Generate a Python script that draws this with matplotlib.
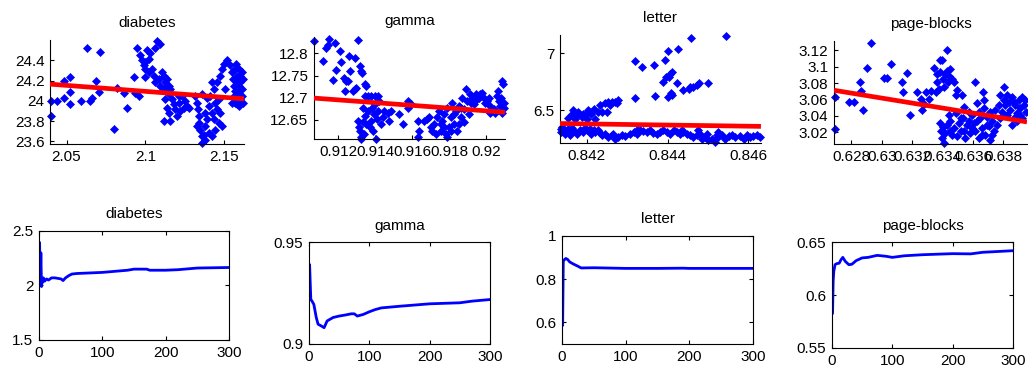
import numpy as np
import matplotlib
matplotlib.use("Agg")
import matplotlib.pyplot as plt

plt.rcParams['font.family'] = ['Liberation Sans', 'DejaVu Sans']
plt.rcParams['font.size'] = 11

names = ['diabetes', 'gamma', 'letter', 'page-blocks']

# ---- top row: scatter (x, y) ----
diabetes_pts = [
    (2.0399, 24.000), (2.0399, 23.850), (2.0441, 24.000), (2.0483, 24.033), (2.0483, 24.200),
    (2.0525, 24.233), (2.0525, 24.083), (2.0525, 23.967), (2.0589, 24.000), (2.0631, 24.517),
    (2.0652, 24.000), (2.0662, 24.033), (2.0684, 24.200), (2.0715, 24.483), (2.0705, 24.083),
    (2.0800, 23.723), (2.0821, 24.123), (2.0863, 24.077), (2.0884, 23.933), (2.0926, 24.233),
    (2.0937, 24.077), (2.0958, 24.050),
    (2.0947, 24.517), (2.0968, 24.450), (2.0979, 24.400), (2.0989, 24.350), (2.1000, 24.383),
    (2.1011, 24.500), (2.1021, 24.417), (2.1032, 24.467), (2.1000, 24.317), (2.1000, 24.233),
    (2.1021, 24.283), (2.1042, 24.317), (2.1053, 24.250), (2.1063, 24.517), (2.1074, 24.590),
    (2.1095, 24.557), (2.1063, 24.183), (2.1084, 24.217), (2.1095, 24.150), (2.1106, 24.283),
    (2.1116, 24.250), (2.1116, 24.117), (2.1127, 24.183), (2.1137, 24.217), (2.1148, 24.150),
    (2.1148, 24.067), (2.1158, 24.117), (2.1169, 24.017), (2.1127, 24.017), (2.1137, 23.933),
    (2.1148, 23.883), (2.1116, 23.800), (2.1158, 23.800), (2.1179, 23.967), (2.1190, 23.917),
    (2.1200, 23.850), (2.1211, 23.983), (2.1222, 23.900), (2.1232, 24.050), (2.1243, 23.933),
    (2.1253, 24.000), (2.1264, 23.950), (2.1274, 23.933), (2.1211, 24.050),
    (2.1317, 24.050), (2.1327, 23.983), (2.1333, 23.917), (2.1338, 23.850), (2.1342, 23.783),
    (2.1348, 23.717), (2.1359, 23.650), (2.1369, 23.667), (2.1380, 23.750), (2.1376, 23.883),
    (2.1390, 23.817), (2.1401, 23.683), (2.1401, 23.950), (2.1411, 24.050), (2.1422, 23.883),
    (2.1422, 23.650), (2.1433, 24.117), (2.1433, 23.817), (2.1443, 23.983), (2.1443, 23.717),
    (2.1454, 24.183), (2.1464, 24.017), (2.1464, 23.783), (2.1475, 24.250), (2.1475, 23.883),
    (2.1485, 24.317), (2.1485, 23.750), (2.1496, 24.367), (2.1506, 24.117), (2.1517, 24.400),
    (2.1327, 23.750), (2.1359, 24.067), (2.1390, 24.033), (2.1359, 23.580), (2.1380, 23.617),
    (2.1422, 24.183), (2.1454, 23.917),
    (2.1538, 24.350), (2.1549, 24.283), (2.1553, 24.217), (2.1559, 24.150), (2.1559, 24.050),
    (2.1570, 23.983), (2.1574, 24.367), (2.1580, 24.250), (2.1587, 24.083), (2.1591, 24.317),
    (2.1591, 23.950), (2.1601, 24.183), (2.1601, 24.017), (2.1612, 24.283), (2.1612, 24.117),
    (2.1622, 24.217), (2.1622, 23.983), (2.1580, 23.967), (2.1549, 23.983), (2.1570, 24.100),
    (2.1580, 24.200), (2.1601, 24.250), (2.1612, 24.050), (2.1591, 24.150), (2.1559, 24.300),
]

gamma_pts = [
    (0.91071, 12.8283), (0.91120, 12.7836), (0.91137, 12.8119), (0.91146, 12.8179), (0.91150, 12.8328),
    (0.91186, 12.8231), (0.91173, 12.7410), (0.91191, 12.7634), (0.91209, 12.8059), (0.91218, 12.7806),
    (0.91232, 12.7448), (0.91236, 12.7149), (0.91245, 12.7373), (0.91254, 12.7373), (0.91257, 12.7933),
    (0.91263, 12.7612), (0.91280, 12.7149), (0.91289, 12.7895), (0.91289, 12.7187), (0.91298, 12.7224),
    (0.91307, 12.8306), (0.91316, 12.7709), (0.91322, 12.7597), (0.91329, 12.7560), (0.91343, 12.7298),
    (0.91352, 12.7261), (0.91347, 12.7037), (0.91334, 12.6776), (0.91361, 12.7037), (0.91379, 12.7037),
    (0.91397, 12.7037), (0.91414, 12.7037),
    (0.91307, 12.6478), (0.91311, 12.6329), (0.91316, 12.6254), (0.91322, 12.6105), (0.91325, 12.6070),
    (0.91334, 12.6440), (0.91339, 12.6179), (0.91343, 12.6590), (0.91352, 12.6403), (0.91361, 12.6702),
    (0.91370, 12.6329), (0.91375, 12.6478), (0.91382, 12.6776), (0.91388, 12.6254), (0.91393, 12.6627),
    (0.91397, 12.6851), (0.91406, 12.6070), (0.91411, 12.6515), (0.91414, 12.6702), (0.91423, 12.6925),
    (0.91432, 12.6403), (0.91441, 12.6552), (0.91450, 12.6702), (0.91468, 12.6664), (0.91486, 12.6702),
    (0.91477, 12.6478),
    (0.91531, 12.6627), (0.91548, 12.6403), (0.91575, 12.6925), (0.91579, 12.6776), (0.91593, 12.6851),
    (0.91629, 12.6478), (0.91638, 12.6254), (0.91632, 12.6105), (0.91665, 12.6478), (0.91682, 12.6515),
    (0.91691, 12.6552), (0.91700, 12.6329), (0.91709, 12.6254), (0.91718, 12.6403), (0.91727, 12.6179),
    (0.91736, 12.6552), (0.91745, 12.6702),
    (0.91754, 12.6254), (0.91763, 12.6478), (0.91772, 12.6627), (0.91781, 12.6179), (0.91790, 12.6776),
    (0.91799, 12.6329), (0.91808, 12.6552), (0.91817, 12.6888), (0.91825, 12.6403), (0.91834, 12.6702),
    (0.91843, 12.6254), (0.91852, 12.6813), (0.91861, 12.6552), (0.91870, 12.7000), (0.91879, 12.6739),
    (0.91888, 12.7187), (0.91897, 12.6925), (0.91906, 12.6627), (0.91911, 12.7075), (0.91879, 12.6440),
    (0.91852, 12.6403), (0.91790, 12.6105), (0.91808, 12.6254), (0.91825, 12.6627), (0.91861, 12.6776),
    (0.91754, 12.6403), (0.91772, 12.6329),
    (0.91915, 12.6888), (0.91924, 12.7000), (0.91933, 12.6851), (0.91942, 12.7075), (0.91951, 12.6963),
    (0.91959, 12.7000), (0.91968, 12.7075), (0.91977, 12.7112), (0.91986, 12.7000), (0.91995, 12.6888),
    (0.92004, 12.6925), (0.92013, 12.7000), (0.92022, 12.6813), (0.92031, 12.6702), (0.92040, 12.6739),
    (0.92049, 12.6664), (0.92058, 12.7037), (0.92061, 12.7149), (0.92067, 12.6925), (0.92072, 12.6813),
    (0.92076, 12.7000), (0.92085, 12.7373), (0.92090, 12.7298), (0.92094, 12.6888), (0.92097, 12.6776),
    (0.92085, 12.6664), (0.92018, 12.6664),
]

letter_pts = [
    (0.84136, 6.338), (0.84137, 6.309), (0.84142, 6.324), (0.84146, 6.294), (0.84155, 6.338),
    (0.84159, 6.279), (0.84167, 6.324), (0.84175, 6.294), (0.84184, 6.329), (0.84192, 6.309),
    (0.84200, 6.324), (0.84208, 6.338), (0.84212, 6.294), (0.84221, 6.309), (0.84229, 6.324),
    (0.84237, 6.279), (0.84245, 6.294), (0.84254, 6.265), (0.84262, 6.279), (0.84270, 6.250),
    (0.84278, 6.265), (0.84287, 6.279), (0.84295, 6.271), (0.84307, 6.288), (0.84316, 6.309),
    (0.84324, 6.324), (0.84332, 6.329), (0.84340, 6.318), (0.84349, 6.309), (0.84357, 6.324),
    (0.84365, 6.300), (0.84373, 6.294), (0.84382, 6.309), (0.84390, 6.324), (0.84398, 6.309),
    (0.84406, 6.294), (0.84415, 6.324), (0.84423, 6.309), (0.84431, 6.288), (0.84439, 6.309),
    (0.84448, 6.294), (0.84456, 6.279), (0.84464, 6.265), (0.84472, 6.279), (0.84481, 6.294),
    (0.84485, 6.250), (0.84493, 6.265), (0.84501, 6.235), (0.84509, 6.250), (0.84518, 6.221),
    (0.84526, 6.265), (0.84534, 6.279), (0.84542, 6.250), (0.84551, 6.271), (0.84559, 6.279),
    (0.84567, 6.265), (0.84580, 6.271), (0.84588, 6.250), (0.84596, 6.279), (0.84604, 6.265),
    (0.84612, 6.271), (0.84621, 6.279), (0.84629, 6.265), (0.84138, 6.353), (0.84163, 6.347),
    (0.84196, 6.347), (0.84217, 6.329), (0.84233, 6.300), (0.84266, 6.294), (0.84324, 6.288),
    (0.84435, 6.329), (0.84476, 6.324), (0.84497, 6.294), (0.84522, 6.279), (0.84526, 6.309),
    (0.84155, 6.435), (0.84163, 6.471), (0.84167, 6.500), (0.84171, 6.426), (0.84175, 6.456),
    (0.84179, 6.485), (0.84188, 6.441), (0.84192, 6.471), (0.84196, 6.456), (0.84200, 6.426),
    (0.84204, 6.500), (0.84212, 6.471), (0.84217, 6.515), (0.84221, 6.426), (0.84229, 6.485),
    (0.84233, 6.544), (0.84237, 6.485), (0.84245, 6.559), (0.84250, 6.485), (0.84254, 6.574),
    (0.84258, 6.544), (0.84262, 6.574), (0.84270, 6.574), (0.84278, 6.588), (0.84274, 6.559),
    (0.84320, 6.935), (0.84320, 6.603), (0.84338, 6.876), (0.84367, 6.897), (0.84369, 6.626),
    (0.84390, 6.750), (0.84394, 6.941), (0.84396, 6.794), (0.84400, 7.023), (0.84402, 6.618),
    (0.84404, 6.788), (0.84406, 6.818), (0.84409, 6.647), (0.84410, 6.838), (0.84412, 6.632),
    (0.84423, 6.741), (0.84425, 7.035), (0.84439, 6.676), (0.84452, 6.682), (0.84456, 6.706),
    (0.84458, 7.138), (0.84464, 6.706), (0.84472, 6.721), (0.84478, 6.735), (0.84501, 6.741),
    (0.84544, 7.153),
]

page_pts = [
    (0.62691, 3.0632), (0.62691, 3.0245), (0.62785, 3.0572), (0.62818, 3.0572), (0.62857, 3.0811),
    (0.62861, 3.0700), (0.62879, 3.0472), (0.62901, 3.0979), (0.62931, 3.1280), (0.63014, 3.0859),
    (0.63032, 3.0859), (0.63063, 3.1031), (0.63135, 3.0811), (0.63141, 3.0692), (0.63163, 3.0923),
    (0.63185, 3.0412), (0.63233, 3.0692), (0.63255, 3.0604), (0.63266, 3.0472), (0.63281, 3.0540),
    (0.63294, 3.0692), (0.63310, 3.0612), (0.63321, 3.0700),
    (0.63343, 3.0979), (0.63354, 3.0692), (0.63360, 3.0911), (0.63365, 3.0811), (0.63375, 3.0732),
    (0.63382, 3.1083), (0.63386, 3.0931), (0.63397, 3.1083), (0.63404, 3.0851), (0.63408, 3.0752),
    (0.63419, 3.0911), (0.63426, 3.0951), (0.63430, 3.1202), (0.63435, 3.0811), (0.63441, 3.0891),
    (0.63452, 3.0971), (0.63463, 3.0843), (0.63474, 3.0811), (0.63485, 3.0652), (0.63496, 3.0712),
    (0.63382, 3.0313), (0.63391, 3.0213), (0.63397, 3.0133), (0.63404, 3.0261), (0.63408, 3.0073),
    (0.63419, 3.0193), (0.63430, 3.0293), (0.63441, 3.0412), (0.63452, 3.0333), (0.63463, 3.0173),
    (0.63474, 3.0253), (0.63485, 3.0432), (0.63496, 3.0153), (0.63507, 3.0313), (0.63518, 3.0213),
    (0.63529, 3.0652), (0.63535, 3.0373), (0.63540, 3.0512), (0.63550, 3.0133), (0.63561, 3.0293),
    (0.63572, 3.0452), (0.63583, 3.0193), (0.63594, 3.0412), (0.63605, 3.0313), (0.63610, 3.0811),
    (0.63616, 3.0213), (0.63627, 3.0552), (0.63638, 3.0133), (0.63649, 3.0373), (0.63660, 3.0253),
    (0.63666, 3.0692), (0.63671, 3.0492), (0.63682, 3.0173), (0.63693, 3.0393), (0.63704, 3.0273),
    (0.63710, 3.0113), (0.63715, 3.0452), (0.63726, 3.0333), (0.63736, 3.0213), (0.63747, 3.0472),
    (0.63758, 3.0293), (0.63594, 3.0253), (0.63638, 3.0452), (0.63660, 3.0173), (0.63693, 3.0293),
    (0.63726, 3.0173), (0.63627, 3.0333), (0.63671, 3.0592), (0.63572, 3.0333), (0.63540, 3.0213),
    (0.63518, 3.0373), (0.63452, 3.0213),
    (0.63769, 3.0532), (0.63780, 3.0652), (0.63791, 3.0452), (0.63802, 3.0752), (0.63806, 3.0592),
    (0.63813, 3.0532), (0.63824, 3.0412), (0.63835, 3.0572), (0.63846, 3.0472), (0.63857, 3.0632),
    (0.63868, 3.0373), (0.63879, 3.0532), (0.63890, 3.0432), (0.63901, 3.0592), (0.63912, 3.0492),
    (0.63922, 3.0632), (0.63933, 3.0532), (0.63944, 3.0592), (0.63951, 3.0452), (0.63857, 3.0293),
    (0.63890, 3.0333), (0.63922, 3.0373), (0.63780, 3.0373), (0.63824, 3.0652), (0.63868, 3.0572),
    (0.63912, 3.0412),
]

# fitted regression line (end points)
fit_x = [[2.0395, 2.1625], [0.9107, 0.9210], [0.84134, 0.84631], [0.62686, 0.63955]]
fit_y = [[24.165, 24.020], [12.699, 12.667], [6.383, 6.358], [3.0712, 3.0328]]

# ---- bottom row: value per iteration ----
diabetes_iter = [1, 2, 3, 4, 5, 6, 7, 9, 12, 15, 20, 25, 30, 35, 38, 42, 47, 52, 60, 80,
                 100, 120, 140, 150, 170, 175, 200, 220, 240, 250, 300]
diabetes_val = [2.39, 2.0, 2.30, 1.99, 2.06, 2.03, 2.07, 2.04, 2.06, 2.05, 2.07, 2.07, 2.065,
                2.06, 2.045, 2.07, 2.09, 2.105, 2.11, 2.115, 2.12, 2.13, 2.14, 2.15, 2.15,
                2.14, 2.14, 2.145, 2.155, 2.16, 2.165]
gamma_iter = [1, 2, 3, 5, 8, 12, 15, 20, 25, 30, 40, 50, 60, 70, 75, 80, 90, 100, 110, 120,
              150, 200, 250, 270, 300]
gamma_val = [0.9387, 0.930, 0.9218, 0.921, 0.9194, 0.913, 0.9097, 0.9089, 0.908, 0.9113,
             0.913, 0.9137, 0.9142, 0.9148, 0.9148, 0.9137, 0.9145, 0.9158, 0.9169, 0.9177,
             0.9185, 0.9197, 0.9202, 0.921, 0.9218]
letter_iter = [1, 2, 4, 6, 9, 12, 18, 25, 30, 50, 100, 150, 190, 200, 250, 300]
letter_val = [0.588, 0.883, 0.891, 0.896, 0.891, 0.880, 0.870, 0.860, 0.852, 0.853, 0.850,
              0.850, 0.851, 0.850, 0.850, 0.850]
page_iter = [1, 2, 3, 5, 8, 12, 15, 18, 22, 28, 33, 40, 50, 60, 75, 90, 100, 120, 150, 200,
             230, 250, 300]
page_val = [0.583, 0.613, 0.622, 0.6286, 0.6296, 0.6300, 0.6333, 0.6355, 0.6318, 0.6286,
            0.6290, 0.6324, 0.6350, 0.6355, 0.6374, 0.6365, 0.6355, 0.6370, 0.6380, 0.6390,
            0.6388, 0.6403, 0.6418]

# ---- axis limits / ticks ----
top_xlim = [(2.0395, 2.1625), (0.9107, 0.9210), (0.84134, 0.84631), (0.62686, 0.63955)]
top_ylim = [(23.575, 24.6), (12.6065, 12.837), (6.212, 7.161), (3.006, 3.131)]
top_xticks = [[2.05, 2.1, 2.15], [0.912, 0.914, 0.916, 0.918, 0.92], [0.842, 0.844, 0.846],
              [0.628, 0.63, 0.632, 0.634, 0.636, 0.638]]
top_xlabels = [['2.05', '2.1', '2.15'], ['0.912', '0.914', '0.916', '0.918', '0.92'],
               ['0.842', '0.844', '0.846'], ['0.628', '0.63', '0.632', '0.634', '0.636', '0.638']]
top_yticks = [[23.6, 23.8, 24, 24.2, 24.4], [12.65, 12.7, 12.75, 12.8], [6.5, 7],
              [3.02, 3.04, 3.06, 3.08, 3.1, 3.12]]
top_ylabels = [['23.6', '23.8', '24', '24.2', '24.4'], ['12.65', '12.7', '12.75', '12.8'],
               ['6.5', '7'], ['3.02', '3.04', '3.06', '3.08', '3.1', '3.12']]
bot_ylim = [(1.5, 2.5), (0.9, 0.95), (0.5, 1.0), (0.55, 0.65)]
bot_yticks = [[1.5, 2, 2.5], [0.9, 0.95], [0.6, 0.8, 1.0], [0.55, 0.6, 0.65]]
bot_ylabels = [['1.5', '2', '2.5'], ['0.9', '0.95'], ['0.6', '0.8', '1'], ['0.55', '0.6', '0.65']]

# axes boxes in figure fractions (left, bottom, width, height)
top_pos = [[0.0486, 0.6119, 0.1887, 0.2803], [0.3054, 0.6253, 0.1858, 0.2749],
           [0.5447, 0.6146, 0.1955, 0.2911], [0.8113, 0.6119, 0.1877, 0.2776]]
bot_pos = [[0.0379, 0.0836, 0.1848, 0.2938], [0.3006, 0.0728, 0.1761, 0.2749],
           [0.5467, 0.0728, 0.1858, 0.2911], [0.8093, 0.0620, 0.1761, 0.2857]]

scatter_sets = [diabetes_pts, gamma_pts, letter_pts, page_pts]
line_sets = [(diabetes_iter, diabetes_val), (gamma_iter, gamma_val),
             (letter_iter, letter_val), (page_iter, page_val)]

fig = plt.figure(figsize=(10.28, 3.71), dpi=100)

for i in range(4):
    # scatter + fitted line
    ax = fig.add_axes(top_pos[i])
    pts = np.array(scatter_sets[i])
    ax.plot(pts[:, 0], pts[:, 1], 'D', color='blue', markersize=3.6, markeredgewidth=0.5,
            clip_on=False, zorder=2)
    ax.plot(fit_x[i], fit_y[i], '-', color='red', linewidth=3.4, solid_capstyle='butt', zorder=3)
    ax.set_xlim(top_xlim[i])
    ax.set_ylim(top_ylim[i])
    ax.set_xticks(top_xticks[i])
    ax.set_xticklabels(top_xlabels[i])
    ax.set_yticks(top_yticks[i])
    ax.set_yticklabels(top_ylabels[i])
    ax.spines['top'].set_visible(False)
    ax.spines['right'].set_visible(False)
    ax.tick_params(direction='in', length=3, width=0.8, labelsize=11, pad=4)
    ax.set_title(names[i], fontsize=11, pad=9)

    # convergence curve
    ax2 = fig.add_axes(bot_pos[i])
    it, val = line_sets[i]
    ax2.plot(it, val, '-', color='blue', linewidth=2)
    ax2.set_xlim(0, 300)
    ax2.set_ylim(bot_ylim[i])
    ax2.set_xticks([0, 100, 200, 300])
    ax2.set_yticks(bot_yticks[i])
    ax2.set_yticklabels(bot_ylabels[i])
    ax2.tick_params(direction='in', length=3, width=0.8, labelsize=11, pad=4,
                    top=True, right=True)
    ax2.set_title(names[i], fontsize=11, pad=9)

fig.savefig('out.png', dpi=100)
